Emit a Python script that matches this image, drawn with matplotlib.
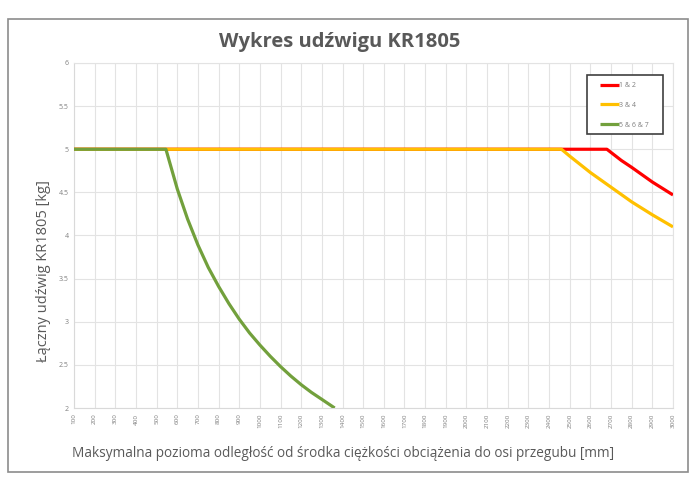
import matplotlib
matplotlib.use("Agg")
import matplotlib.pyplot as plt
from matplotlib.patches import Rectangle

# Data
x_ticks = list(range(100, 3001, 100))
y_ticks = [2, 2.5, 3, 3.5, 4, 4.5, 5, 5.5, 6]

red_x = [100, 2680, 2750, 2800, 2900, 3000]
red_y = [5.0, 5.0, 4.87, 4.79, 4.62, 4.47]

yellow_x = [100, 2460, 2500, 2600, 2700, 2800, 2900, 3000]
yellow_y = [5.0, 5.0, 4.92, 4.73, 4.56, 4.39, 4.24, 4.10]

green_x = [100, 545, 600, 650, 700, 750, 800, 850, 900, 950, 1000,
           1050, 1100, 1150, 1200, 1250, 1300, 1362]
green_y = [5.0, 5.0, 4.54, 4.19, 3.89, 3.63, 3.41, 3.21, 3.03, 2.87, 2.73,
           2.60, 2.48, 2.37, 2.27, 2.18, 2.10, 2.00]

labels = ["1 & 2", "3 & 4", "5 & 6 & 7"]
colors = ["#FF0000", "#FFC000", "#72A03C"]

title = "Wykres udźwigu KR1805"
xlabel = "Maksymalna pozioma odległość od środka ciężkości obciążenia do osi przegubu [mm]"
ylabel = "Łączny udźwig KR1805 [kg]"

plt.rcParams['font.family'] = ['Open Sans', 'DejaVu Sans']
W, H = 700, 490
fig = plt.figure(figsize=(W / 100, H / 100), dpi=100)
fig.patch.set_facecolor("white")

# outer chart border
fig.patches.append(Rectangle((8 / W, 1 - 472 / H), (688 - 8) / W, (472 - 19) / H,
                             transform=fig.transFigure, fill=False,
                             edgecolor="#8C8C8C", linewidth=1.2))

ax = fig.add_axes([74 / W, 1 - 408 / H, (673 - 74) / W, (408 - 63) / H])
gray = "#595959"

ax.plot(red_x, red_y, color=colors[0], lw=2.3, label=labels[0], zorder=3,
        solid_capstyle="butt")
ax.plot(yellow_x, yellow_y, color=colors[1], lw=2.3, label=labels[1], zorder=4,
        solid_capstyle="butt")
ax.plot(green_x, green_y, color=colors[2], lw=2.3, label=labels[2], zorder=5,
        solid_capstyle="butt")

ax.set_xlim(100, 3000)
ax.set_ylim(2, 6)
ax.set_xticks(x_ticks)
ax.set_xticklabels([str(v) for v in x_ticks], rotation=90, fontsize=4.5, color="#7F7F7F")
ax.set_yticks(y_ticks)
ax.set_yticklabels([f"{v:g}" for v in y_ticks], fontsize=5, color="#7F7F7F")
ax.tick_params(length=0, pad=4)
ax.grid(True, color="#E3E3E3", linewidth=0.8)
ax.set_axisbelow(True)
for s in ["top", "right"]:
    ax.spines[s].set_color("#E3E3E3")
    ax.spines[s].set_linewidth(0.8)
for s in ["left", "bottom"]:
    ax.spines[s].set_color("#D9D9D9")
    ax.spines[s].set_linewidth(0.8)

fig.text(340 / W, 1 - 42 / H, title, ha="center", va="center",
         fontsize=14.5, fontweight="bold", color=gray)
fig.text(72 / W, 1 - 453 / H, xlabel, ha="left", va="center",
         fontsize=9.8, color=gray)
fig.text(44 / W, 1 - 271 / H, ylabel, ha="center", va="center",
         rotation=90, fontsize=10.5, color=gray)

# legend box (frame drawn separately to match the reference box size)
lx0, lx1, ly0, ly1 = 587, 663, 75, 134
fig.patches.append(Rectangle((lx0 / W, 1 - ly1 / H), (lx1 - lx0) / W, (ly1 - ly0) / H,
                             transform=fig.transFigure, facecolor="white",
                             edgecolor="#404040", linewidth=1.2, zorder=6))
leg = fig.legend(loc="upper left", bbox_to_anchor=(600 / W, 1 - 82 / H),
                 fontsize=5, frameon=False, handlelength=2.7,
                 handletextpad=0.1, labelspacing=1.85, borderpad=0,
                 borderaxespad=0, labelcolor="#7F7F7F")
leg.set_zorder(7)

fig.savefig("out.png", dpi=100, facecolor="white")
